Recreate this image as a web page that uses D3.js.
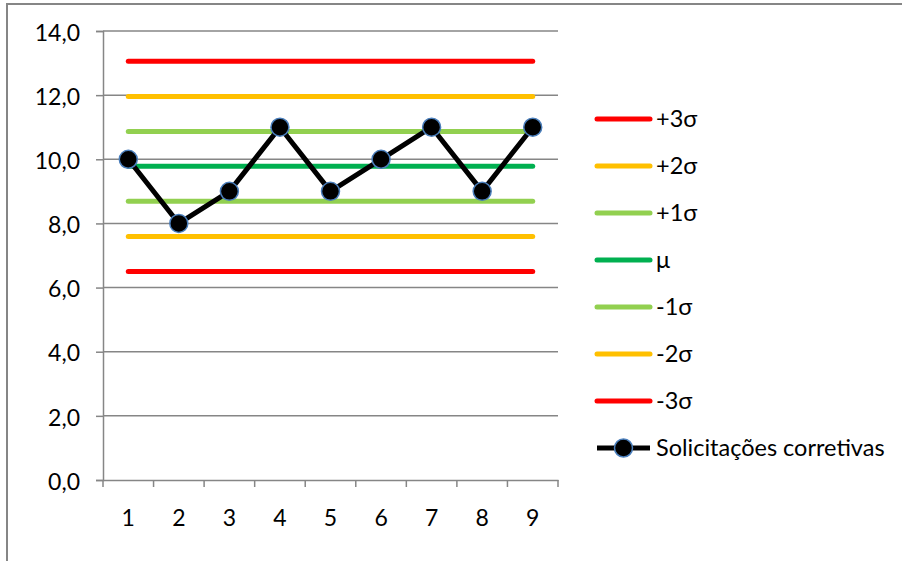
<!DOCTYPE html>
<html>
<head>
<meta charset="utf-8">
<script src="https://cdn.jsdelivr.net/npm/d3@7/dist/d3.min.js"></script>
<style>
  html, body { margin: 0; padding: 0; background: #fff; }
  svg { display: block; }
  text { font-family: Lato, "Open Sans", sans-serif; fill: #000; }
</style>
</head>
<body>
<svg id="chart" width="902" height="561"></svg>
<script>
// Samples (order 1..9) and their corrective-request counts
const categories = ["1", "2", "3", "4", "5", "6", "7", "8", "9"];
const requests = [10, 8, 9, 11, 9, 10, 11, 9, 11];

// Control limits: mean and ±1/2/3 standard deviations
const limitNames = ["+3σ", "+2σ", "+1σ", "μ", "-1σ", "-2σ", "-3σ"];
const limitValues = [13.06, 11.96, 10.87, 9.78, 8.69, 7.59, 6.50];
const limitColors = ["#ff0000", "#ffc000", "#92d050", "#00b050", "#92d050", "#ffc000", "#ff0000"];

const seriesName = "Solicitações corretivas";
const yTicks = [0, 2, 4, 6, 8, 10, 12, 14];

const svg = d3.select("#chart");
const plot = { left: 103, right: 558, top: 31, bottom: 480 };
const fontSize = 23;

// Outer chart frame (extends beyond the visible window on right and bottom)
svg.append("rect")
  .attr("x", 7).attr("y", 4)
  .attr("width", 910).attr("height", 580)
  .attr("fill", "#fff")
  .attr("stroke", "#868686").attr("stroke-width", 2);

const x = d3.scaleBand().domain(categories).range([plot.left, plot.right]);
const y = d3.scaleLinear().domain([0, 14]).range([plot.bottom, plot.top]);
const cx = c => x(c) + x.bandwidth() / 2;

const fmt = v => d3.format(".1f")(v).replace(".", ",");

// Horizontal gridlines
svg.append("g")
  .selectAll("line").data(yTicks.filter(t => t > 0)).join("line")
  .attr("x1", plot.left).attr("x2", plot.right)
  .attr("y1", d => y(d)).attr("y2", d => y(d))
  .attr("stroke", "#868686").attr("stroke-width", 1.5);

// Y axis
const yAxis = svg.append("g")
  .attr("transform", `translate(${plot.left},0)`)
  .call(d3.axisLeft(y).tickValues(yTicks).tickFormat(fmt).tickSize(7).tickPadding(16));
yAxis.select(".domain").attr("stroke", "#868686").attr("stroke-width", 1.5);
yAxis.selectAll(".tick line").attr("stroke", "#868686").attr("stroke-width", 1.5);
yAxis.selectAll(".tick text")
  .attr("font-size", fontSize).attr("dy", "0.4em")
  .style("font-family", "Lato, 'Open Sans', sans-serif");

// X axis with ticks between categories
const xAxis = svg.append("g")
  .attr("transform", `translate(0,${plot.bottom})`)
  .call(d3.axisBottom(x).tickSize(0).tickPadding(37));
xAxis.select(".domain").attr("stroke", "#868686").attr("stroke-width", 1.5);
xAxis.selectAll(".tick text")
  .attr("font-size", fontSize).attr("dy", "0.4em")
  .style("font-family", "Lato, 'Open Sans', sans-serif");
const xEdges = categories.map(c => x(c)).concat([x(categories[categories.length - 1]) + x.bandwidth()]);
svg.append("g").selectAll("line").data(xEdges).join("line")
  .attr("x1", d => d).attr("x2", d => d)
  .attr("y1", plot.bottom).attr("y2", plot.bottom + 7)
  .attr("stroke", "#868686").attr("stroke-width", 1.5);

// Control limit lines
svg.append("g").selectAll("line").data(limitValues).join("line")
  .attr("x1", cx(categories[0])).attr("x2", cx(categories[categories.length - 1]))
  .attr("y1", d => y(d)).attr("y2", d => y(d))
  .attr("stroke", (d, i) => limitColors[i])
  .attr("stroke-width", 5).attr("stroke-linecap", "round");

// Data series
const line = d3.line().x((d, i) => cx(categories[i])).y(d => y(d));
svg.append("path").datum(requests)
  .attr("d", line).attr("fill", "none")
  .attr("stroke", "#000").attr("stroke-width", 5).attr("stroke-linejoin", "round");
svg.append("g").selectAll("circle").data(requests).join("circle")
  .attr("cx", (d, i) => cx(categories[i])).attr("cy", d => y(d))
  .attr("r", 9).attr("fill", "#000")
  .attr("stroke", "#4a7ebb").attr("stroke-width", 1.5);

// Legend
const legend = svg.append("g");
const legendItems = limitNames.map((n, i) => ({ name: n, color: limitColors[i] }))
  .concat([{ name: seriesName, color: "#000", marker: true }]);
const rowY = i => 119 + i * 47;
const lx0 = 597, lx1 = 650;
const rows = legend.selectAll("g").data(legendItems).join("g")
  .attr("transform", (d, i) => `translate(0,${rowY(i)})`);
rows.append("line")
  .attr("x1", lx0).attr("x2", lx1).attr("y1", 0).attr("y2", 0)
  .attr("stroke", d => d.color).attr("stroke-width", 5)
  .attr("stroke-linecap", d => d.marker ? "butt" : "round");
rows.filter(d => d.marker).append("circle")
  .attr("cx", (lx0 + lx1) / 2).attr("cy", 0).attr("r", 9)
  .attr("fill", "#000").attr("stroke", "#4a7ebb").attr("stroke-width", 1.5);
rows.append("text")
  .attr("x", 656).attr("y", 0).attr("dy", "0.35em")
  .attr("font-size", fontSize + 0.5)
  .text(d => d.name);
</script>
</body>
</html>
